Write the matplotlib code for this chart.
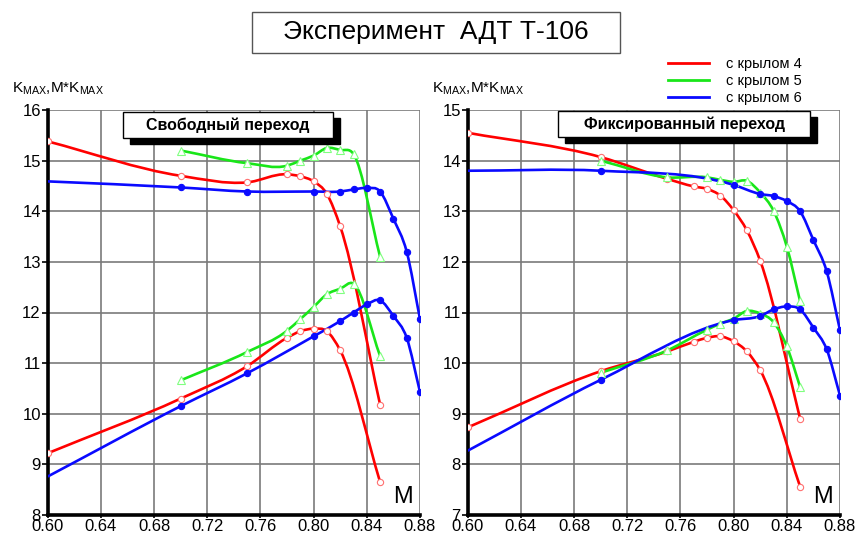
import matplotlib
matplotlib.use("Agg")
import matplotlib.pyplot as plt
from matplotlib.path import Path
from matplotlib.patches import PathPatch, Rectangle
from matplotlib.lines import Line2D
import numpy as np

plt.rcParams['font.family'] = ['Liberation Sans', 'DejaVu Sans']

# === Данные: свободный переход (левая панель)
svob_m4 = [0.60, 0.70, 0.75, 0.78, 0.79, 0.80, 0.81, 0.82, 0.85]
svob_k4 = [15.38, 14.70, 14.57, 14.73, 14.69, 14.59, 14.34, 13.70, 10.18]
svob_mk4 = [9.22, 10.30, 10.94, 11.50, 11.63, 11.68, 11.63, 11.25, 8.65]

svob_m5 = [0.70, 0.75, 0.78, 0.79, 0.80, 0.81, 0.82, 0.83, 0.85]
svob_k5 = [15.20, 14.95, 14.90, 15.00, 15.10, 15.25, 15.21, 15.13, 13.10]
svob_mk5 = [10.66, 11.22, 11.64, 11.87, 12.11, 12.36, 12.47, 12.57, 11.14]

svob_m6 = [0.60, 0.70, 0.75, 0.80, 0.82, 0.83, 0.84, 0.85, 0.86, 0.87, 0.88]
svob_k6 = [14.59, 14.47, 14.39, 14.39, 14.39, 14.43, 14.46, 14.39, 13.85, 13.20, 11.87]
svob_mk6 = [8.76, 10.15, 10.80, 11.53, 11.83, 12.00, 12.16, 12.24, 11.93, 11.50, 10.43]

# === Данные: фиксированный переход (правая панель)
fiks_m4 = [0.60, 0.70, 0.75, 0.77, 0.78, 0.79, 0.80, 0.81, 0.82, 0.85]
fiks_k4 = [14.55, 14.07, 13.64, 13.49, 13.44, 13.31, 13.02, 12.62, 12.02, 8.90]
fiks_mk4 = [8.73, 9.84, 10.23, 10.42, 10.50, 10.53, 10.43, 10.23, 9.86, 7.56]

fiks_m5 = [0.70, 0.75, 0.78, 0.79, 0.80, 0.81, 0.82, 0.83, 0.84, 0.85]
fiks_k5 = [14.00, 13.67, 13.67, 13.62, 13.58, 13.60, 13.37, 13.01, 12.30, 11.22]
fiks_mk5 = [9.81, 10.25, 10.66, 10.78, 10.88, 11.03, 10.98, 10.81, 10.33, 9.53]

fiks_m6 = [0.60, 0.70, 0.80, 0.82, 0.83, 0.84, 0.85, 0.86, 0.87, 0.88]
fiks_k6 = [13.80, 13.80, 13.52, 13.34, 13.30, 13.20, 13.00, 12.43, 11.81, 10.65]
fiks_mk6 = [8.27, 9.67, 10.85, 10.93, 11.06, 11.12, 11.06, 10.70, 10.27, 9.36]

x_ticks = [0.60, 0.64, 0.68, 0.72, 0.76, 0.80, 0.84, 0.88]
legend_labels = ["с крылом 4", "с крылом 5", "с крылом 6"]

ROSSO = "#ff0000"
VERDE = "#19e619"
BLU = "#0a0aff"


def curva(x, y):
    # curva di Hermite tra i punti letti (solo per il disegno)
    x = np.asarray(x, float)
    y = np.asarray(y, float)
    h = np.diff(x)
    d = np.diff(y) / h
    m = np.empty_like(y)
    m[0], m[-1] = d[0], d[-1]
    m[1:-1] = (h[:-1] * d[1:] + h[1:] * d[:-1]) / (h[:-1] + h[1:])
    verts = [(x[0], y[0])]
    codes = [Path.MOVETO]
    for i in range(len(h)):
        verts += [(x[i] + h[i] / 3, y[i] + m[i] * h[i] / 3),
                  (x[i + 1] - h[i] / 3, y[i + 1] - m[i + 1] * h[i] / 3),
                  (x[i + 1], y[i + 1])]
        codes += [Path.CURVE4] * 3
    return Path(verts, codes)


def disegna(ax, x, y, colore, marker, mfc, mec, ms, primo=0):
    ax.add_patch(PathPatch(curva(x, y), fill=False, edgecolor=colore, lw=1.9, zorder=3))
    ax.plot(x[primo:], y[primo:], ls="none", marker=marker, mfc=mfc, mec=mec,
            ms=ms, mew=0.8, zorder=4)


def pannello(ax, ylim, dati):
    for x, k, mk, colore, marker, mfc, mec, ms, primo in dati:
        disegna(ax, x, k, colore, marker, mfc, mec, ms, primo)
        disegna(ax, x, mk, colore, marker, mfc, mec, ms, primo)
    ax.set_xlim(0.60, 0.88)
    ax.set_ylim(*ylim)
    ax.set_xticks(x_ticks)
    ax.set_xticklabels([f"{t:.2f}" for t in x_ticks])
    ax.set_yticks(range(ylim[0], ylim[1] + 1))
    ax.tick_params(axis="y", labelsize=12, length=4, width=1.2, pad=1)
    ax.tick_params(axis="x", labelsize=12, length=2, width=1.2, pad=1)
    ax.grid(True, color="#7a7a7a", lw=1.2)
    ax.set_axisbelow(True)
    for s in ["top", "right"]:
        ax.spines[s].set_visible(False)
    for s in ["left", "bottom"]:
        ax.spines[s].set_linewidth(2.6)
    ax.text(0.955, 0.045, "M", transform=ax.transAxes, fontsize=17,
            ha="center", va="center", zorder=6)
    ax.text(-0.095, 1.052, r"$\mathregular{K_{MAX}{,}M{*}K_{MAX}}$", transform=ax.transAxes,
            fontsize=11, ha="left", va="center")


fig = plt.figure(figsize=(8.58, 5.35), dpi=100)
W, H = 858, 535
ax1 = fig.add_axes([47.7 / W, 20 / H, 372.3 / W, 405 / H])
ax2 = fig.add_axes([467.7 / W, 20 / H, 372.3 / W, 405 / H])

pannello(ax1, (8, 16), [
    (svob_m4, svob_k4, svob_mk4, ROSSO, "o", "white", "#ff7070", 4.5, 0),
    (svob_m5, svob_k5, svob_mk5, VERDE, "^", "white", "#80ff80", 5.5, 0),
    (svob_m6, svob_k6, svob_mk6, BLU, "o", BLU, BLU, 4.5, 1),
])
pannello(ax2, (7, 15), [
    (fiks_m4, fiks_k4, fiks_mk4, ROSSO, "o", "white", "#ff7070", 4.5, 0),
    (fiks_m5, fiks_k5, fiks_mk5, VERDE, "^", "white", "#80ff80", 5.5, 0),
    (fiks_m6, fiks_k6, fiks_mk6, BLU, "o", BLU, BLU, 4.5, 1),
])


def riquadro(x0, y0, x1, y1, testo, size, bold=True, ombra=True, ec="black"):
    # coordinate in pixel della figura
    if ombra:
        fig.add_artist(Rectangle(((x0 + 7) / W, 1 - (y1 + 6) / H), (x1 - x0) / W, (y1 - y0) / H,
                                 transform=fig.transFigure, fc="black", ec="black", zorder=10))
    fig.add_artist(Rectangle((x0 / W, 1 - y1 / H), (x1 - x0) / W, (y1 - y0) / H,
                             transform=fig.transFigure, fc="white", ec=ec, lw=1, zorder=11))
    fig.text((x0 + x1) / 2 / W, 1 - (y0 + y1) / 2 / H, testo, fontsize=size,
             fontweight="bold" if bold else "normal", ha="center", va="center", zorder=12)


riquadro(252, 12, 620, 53, "Эксперимент  АДТ Т-106", 19, bold=False, ombra=False, ec="#555555")
riquadro(123, 112, 333, 138, "Свободный переход", 11.5)
riquadro(558, 111, 810, 137, "Фиксированный переход", 11.5)

handles = [Line2D([], [], color=c, lw=2) for c in (ROSSO, VERDE, BLU)]
fig.legend(handles, legend_labels, loc="upper left", bbox_to_anchor=(655 / W, 1 - 44 / H),
           frameon=False, fontsize=10.5, handlelength=2.8, handletextpad=1.2, labelspacing=0.2)

fig.savefig("out.png", dpi=100)
